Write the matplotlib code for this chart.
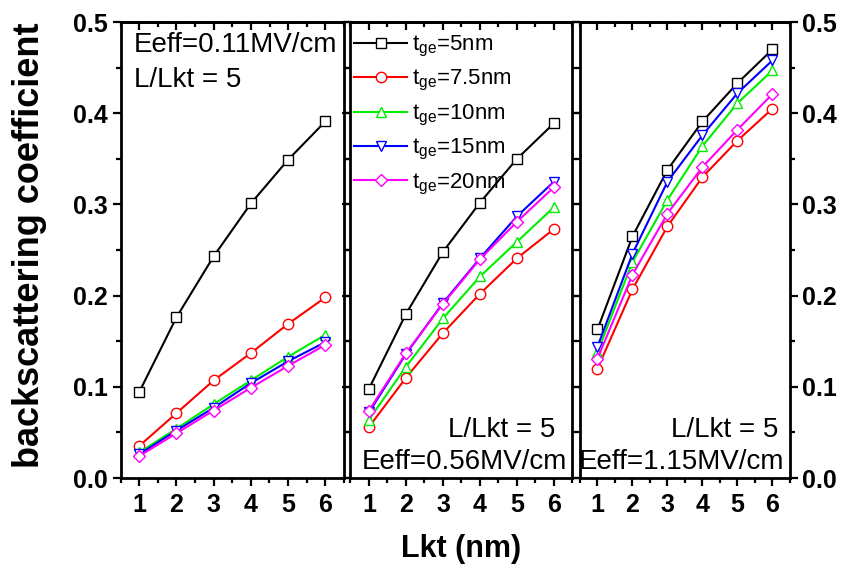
import numpy as np
import matplotlib
matplotlib.use("Agg")
import matplotlib.pyplot as plt
from matplotlib.ticker import MultipleLocator

# Datos
lkt = [1, 2, 3, 4, 5, 6]
etiquetas = [r"t$_{\mathregular{ge}}$=5nm", r"t$_{\mathregular{ge}}$=7.5nm",
             r"t$_{\mathregular{ge}}$=10nm", r"t$_{\mathregular{ge}}$=15nm",
             r"t$_{\mathregular{ge}}$=20nm"]
colores = ["black", "#ff0000", "#00ee00", "#0000ff", "#ff00ff"]
marcadores = ["s", "o", "^", "v", "D"]
tam_marcador = [6.5, 7.5, 7.5, 7.5, 6]

# Eeff = 0.11 MV/cm
p1_5nm = [0.094, 0.176, 0.243, 0.301, 0.349, 0.391]
p1_7_5nm = [0.035, 0.071, 0.107, 0.137, 0.169, 0.198]
p1_10nm = [0.028, 0.054, 0.081, 0.107, 0.133, 0.157]
p1_15nm = [0.026, 0.052, 0.077, 0.104, 0.128, 0.149]
p1_20nm = [0.024, 0.049, 0.074, 0.099, 0.123, 0.146]

# Eeff = 0.56 MV/cm
p2_5nm = [0.098, 0.180, 0.248, 0.302, 0.350, 0.389]
p2_7_5nm = [0.056, 0.110, 0.159, 0.202, 0.241, 0.273]
p2_10nm = [0.064, 0.122, 0.175, 0.221, 0.259, 0.297]
p2_15nm = [0.072, 0.136, 0.192, 0.241, 0.287, 0.325]
p2_20nm = [0.074, 0.137, 0.191, 0.240, 0.281, 0.319]

# Eeff = 1.15 MV/cm
p3_5nm = [0.163, 0.265, 0.338, 0.391, 0.433, 0.470]
p3_7_5nm = [0.120, 0.207, 0.276, 0.330, 0.370, 0.405]
p3_10nm = [0.138, 0.237, 0.305, 0.364, 0.411, 0.447]
p3_15nm = [0.144, 0.246, 0.325, 0.376, 0.422, 0.458]
p3_20nm = [0.131, 0.223, 0.290, 0.341, 0.382, 0.421]

paneles = [
    [p1_5nm, p1_7_5nm, p1_10nm, p1_15nm, p1_20nm],
    [p2_5nm, p2_7_5nm, p2_10nm, p2_15nm, p2_20nm],
    [p3_5nm, p3_7_5nm, p3_10nm, p3_15nm, p3_20nm],
]
yticks = [0, 0.1, 0.2, 0.3, 0.4, 0.5]
ytick_labels = ["0.0", "0.1", "0.2", "0.3", "0.4", "0.5"]

W, H = 845, 572
fig = plt.figure(figsize=(W / 100, H / 100), dpi=100)

# posiciones en píxeles (izquierda, derecha), arriba 22, abajo 478
bordes = [(120.5, 344), (350.5, 572.5), (580, 790)]
top_px, bot_px = 22, 478

fuente = ["Liberation Sans", "DejaVu Sans"]

ejes = []
for i, (l, r) in enumerate(bordes):
    ax = fig.add_axes([l / W, 1 - bot_px / H, (r - l) / W, (bot_px - top_px) / H])
    ejes.append(ax)
    for j, serie in enumerate(paneles[i]):
        ax.plot(lkt, serie, color=colores[j], marker=marcadores[j],
                markersize=tam_marcador[j], markerfacecolor="white",
                markeredgecolor=colores[j], markeredgewidth=1.0,
                linewidth=1.5, label=etiquetas[j])
    ax.set_xlim(0.5, 6.5)
    ax.set_ylim(0, 0.5)
    ax.xaxis.set_minor_locator(MultipleLocator(0.5))
    ax.yaxis.set_minor_locator(MultipleLocator(0.05))
    for s in ax.spines.values():
        s.set_linewidth(2.0)
    ax.tick_params(which="both", direction="out", width=1.6,
                   left=True, right=True, bottom=True, top=False,
                   labelleft=(i == 0), labelright=(i == 2))
    ax.tick_params(which="major", length=6)
    ax.tick_params(which="minor", length=3.5)
    ax.tick_params(axis="x", pad=5)
    ax.tick_params(axis="y", pad=3)
    ax.set_xticks(lkt)
    ax.set_xticklabels([str(v) for v in lkt], family=fuente,
                       fontweight="bold", fontsize=18)
    ax.set_yticks(yticks)
    ax.set_yticklabels(ytick_labels, family=fuente, fontweight="bold",
                       fontsize=18)
    # ticks superiores hacia dentro
    sec = ax.secondary_xaxis("top")
    sec.xaxis.set_major_locator(MultipleLocator(1))
    sec.xaxis.set_minor_locator(MultipleLocator(0.5))
    sec.tick_params(which="both", direction="in", width=1.6, labeltop=False)
    sec.tick_params(which="major", length=6)
    sec.tick_params(which="minor", length=3.5)
    sec.spines["top"].set_linewidth(2.0)

ejes[0].text(0.06, 0.95, "Eeff=0.11MV/cm", transform=ejes[0].transAxes,
             ha="left", va="center", fontsize=20, family=fuente)
ejes[0].text(0.06, 0.873, "L/Lkt = 5", transform=ejes[0].transAxes,
             ha="left", va="center", fontsize=20, family=fuente)

ejes[1].text(0.925, 0.105, "L/Lkt = 5", transform=ejes[1].transAxes,
             ha="right", va="center", fontsize=20, family=fuente)
ejes[1].text(0.975, 0.035, "Eeff=0.56MV/cm", transform=ejes[1].transAxes,
             ha="right", va="center", fontsize=20, family=fuente)

ejes[2].text(0.945, 0.105, "L/Lkt = 5", transform=ejes[2].transAxes,
             ha="right", va="center", fontsize=20, family=fuente)
ejes[2].text(0.975, 0.035, "Eeff=1.15MV/cm", transform=ejes[2].transAxes,
             ha="right", va="center", fontsize=20, family=fuente)

ley = ejes[1].legend(loc="upper left", bbox_to_anchor=(-0.045, 1.003),
                     frameon=False, handlelength=2.4, handletextpad=0.2,
                     labelspacing=0.42, borderaxespad=0.2,
                     prop={"family": fuente, "size": 16})

fig.text(30 / W, 1 - 245 / H, "backscattering coefficient", rotation=90,
         ha="center", va="center", fontsize=26, fontweight="bold",
         family=fuente)
fig.text(461 / W, 1 - 549 / H, "Lkt (nm)", ha="center", va="center",
         fontsize=22, fontweight="bold", family=fuente)

fig.savefig("out.png", dpi=100)
